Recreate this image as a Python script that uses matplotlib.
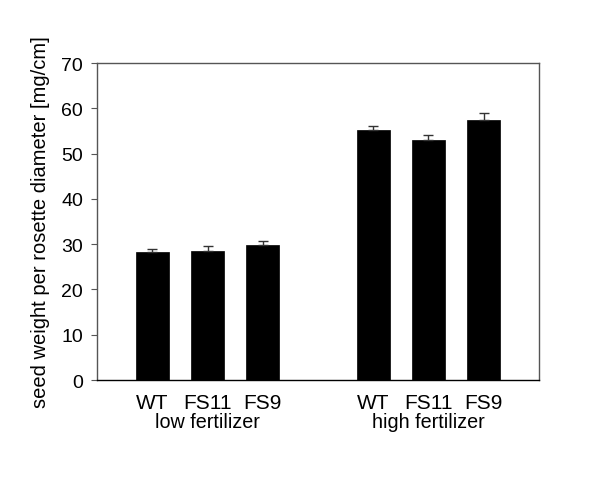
import matplotlib
matplotlib.use("Agg")
import matplotlib.pyplot as plt
from matplotlib.transforms import blended_transform_factory

plt.rcParams['font.family'] = ['Liberation Sans', 'DejaVu Sans']

genotypes = ["WT", "FS11", "FS9", "WT", "FS11", "FS9"]
groups = ["low fertilizer", "high fertilizer"]
values = [28.2, 28.6, 29.9, 55.1, 52.9, 57.5]
errors = [0.7, 0.9, 0.8, 1.1, 1.2, 1.4]
positions = [0, 1, 2, 4, 5, 6]

fig = plt.figure(figsize=(6, 4.85), dpi=100)
ax = fig.add_axes([0.1617, 0.2144, 0.7366, 0.6536])

ax.bar(positions, values, width=0.6, color="black", edgecolor="black", linewidth=0.5)
ax.errorbar(positions, values, yerr=[[0]*len(values), errors], fmt="none",
            ecolor="#333333", elinewidth=1.0, capsize=3.6, capthick=1.0)

ax.set_xlim(-1, 7)
ax.set_ylim(0, 70)
ax.set_yticks(range(0, 71, 10))
ax.set_xticks(positions)
ax.set_xticklabels(genotypes, fontsize=15)
ax.tick_params(axis='x', length=0, pad=9)
ax.tick_params(axis='y', labelsize=14, length=4, width=0.8, direction='out', pad=6, color="#555555")
for s in ax.spines.values():
    s.set_linewidth(1.0)
    s.set_color("#555555")
ax.spines['bottom'].set_color("black")

ax.set_ylabel("seed weight per rosette diameter [mg/cm]", fontsize=14.5, labelpad=8)

trans = blended_transform_factory(ax.transData, ax.transAxes)
ax.text(1, -0.132, groups[0], transform=trans, ha='center', va='center', fontsize=14.2)
ax.text(5, -0.132, groups[1], transform=trans, ha='center', va='center', fontsize=14.2)

fig.savefig("out.png", dpi=100)
